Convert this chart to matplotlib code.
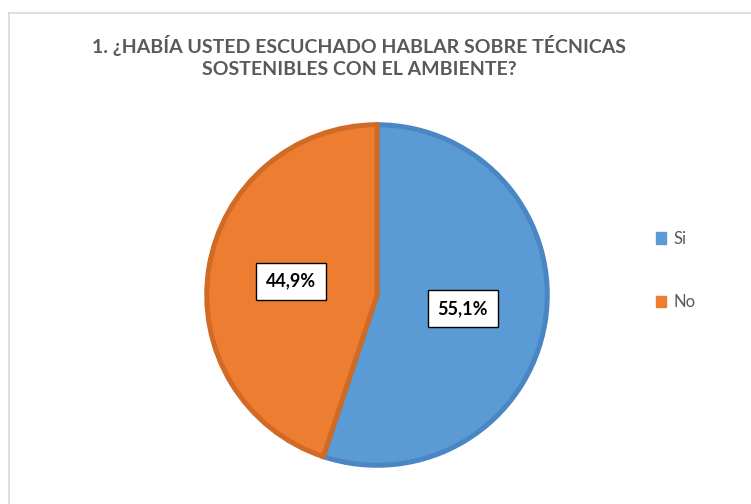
import matplotlib.pyplot as plt
from matplotlib.lines import Line2D

# Data
labels = ['Si', 'No']
values = [55.1, 44.9]
colors = ['#5B9BD5', '#ED7D31']
edge_colors = ['#4A86C4', '#D06A25']
title = '1. ¿HABÍA USTED ESCUCHADO HABLAR SOBRE TÉCNICAS\nSOSTENIBLES CON EL AMBIENTE?'

plt.rcParams['font.family'] = ['Lato', 'DejaVu Sans']

fig = plt.figure(figsize=(7.51, 5.04), dpi=100)

# thin chart border (left and top visible in reference)
fig.add_artist(Line2D([8.5 / 751, 8.5 / 751], [0, 1 - 12.5 / 504], color='#D9D9D9', lw=1.2))
fig.add_artist(Line2D([8.5 / 751, 1], [1 - 12.5 / 504, 1 - 12.5 / 504], color='#D9D9D9', lw=1.2))

ax = fig.add_axes([0.273, 0.0734, 0.458, 0.6825])


def fmt(p):
    return f'{p:.1f}%'.replace('.', ',')


wedges, texts, autotexts = ax.pie(values, colors=colors, startangle=90, counterclock=False,
                                  autopct=fmt, pctdistance=0.51,
                                  wedgeprops=dict(linewidth=3.6, joinstyle='miter'))
for w, ec in zip(wedges, edge_colors):
    w.set_edgecolor(ec)

for t in autotexts:
    t.set_fontsize(13)
    t.set_fontweight('bold')
    t.set_color('#000000')
    t.set_bbox(dict(boxstyle='square,pad=0.55', facecolor='white', edgecolor='#000000', linewidth=1))

ax.set_xlim(-1.01, 1.01)
ax.set_ylim(-1.01, 1.01)
ax.set_aspect('equal')

fig.text(0.478, 0.888, title, ha='center', va='center', fontsize=14, fontweight='bold',
         color='#595959', linespacing=1.3)

handles = [plt.Rectangle((0, 0), 1, 1, facecolor=c, edgecolor=c) for c in colors]
fig.legend(handles, labels, loc='center left', bbox_to_anchor=(0.853, 0.463), frameon=False,
           fontsize=12, labelcolor='#595959', handlelength=0.65, handleheight=0.65,
           handletextpad=0.4, labelspacing=2.85)

fig.savefig('out.png', dpi=100)
